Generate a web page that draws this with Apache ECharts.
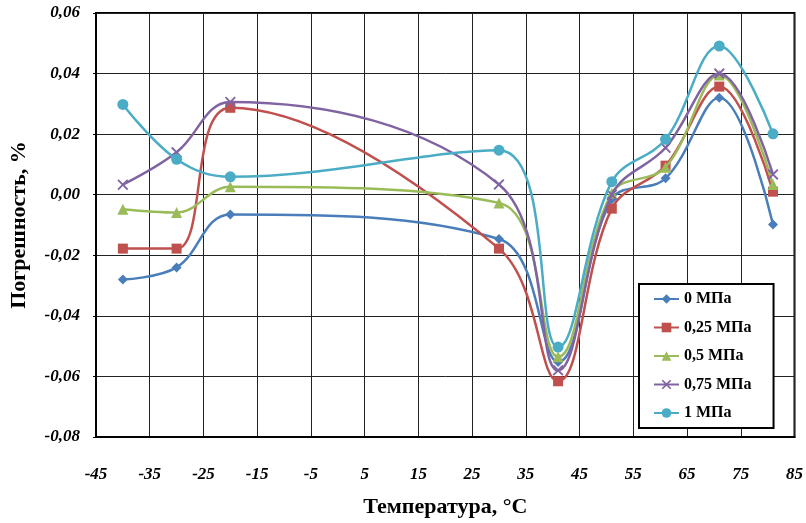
<!DOCTYPE html>
<html>
<head>
<meta charset="utf-8">
<script src="https://cdn.jsdelivr.net/npm/echarts@6/dist/echarts.min.js"></script>
<style>
  html, body { margin: 0; padding: 0; background: #fff; }
  #chart { width: 806px; height: 523px; }
</style>
</head>
<body>
<div id="chart"></div>
<script>
// Measurement temperatures, °C
const temperatures = [-40, -30, -20, 30, 41, 51, 61, 71, 81];

// Error, %, for each pressure
const err0MPa   = [-0.028, -0.024, -0.0065, -0.0146, -0.0552, -0.0015, 0.0054, 0.032, -0.0098];
const err025MPa = [-0.0178, -0.0178, 0.0287, -0.0178, -0.0616, -0.0046, 0.0096, 0.0357, 0.001];
const err05MPa  = [-0.0048, -0.0059, 0.0026, -0.0027, -0.0535, 0.0005, 0.0091, 0.0395, 0.0034];
const err075MPa = [0.0033, 0.014, 0.0306, 0.0034, -0.058, 0.0, 0.0155, 0.04, 0.0067];
const err1MPa   = [0.0298, 0.0117, 0.0059, 0.0147, -0.0503, 0.0043, 0.0183, 0.0491, 0.0201];

const seriesNames = ['0 МПа', '0,25 МПа', '0,5 МПа', '0,75 МПа', '1 МПа'];
const seriesData = [err0MPa, err025MPa, err05MPa, err075MPa, err1MPa];
const colors = ['#4A7EBB', '#C0504D', '#9BBB59', '#8064A2', '#4BACC6'];

const crossPath = 'path://M0,1.2 L1.2,0 L5,3.8 L8.8,0 L10,1.2 L6.2,5 L10,8.8 L8.8,10 L5,6.2 L1.2,10 L0,8.8 L3.8,5 Z';
const symbols = ['diamond', 'rect', 'triangle', crossPath, 'circle'];
const symbolSizes = [10, 10, 11, 11, 11];

const serif = '"Liberation Serif", "Times New Roman", serif';
const tickFont = {
  fontFamily: serif,
  fontWeight: 'bold',
  fontStyle: 'italic',
  fontSize: 17,
  color: '#000'
};

const chart = echarts.init(document.getElementById('chart'), null, { renderer: 'canvas' });

chart.setOption({
  animation: false,
  backgroundColor: '#fff',
  grid: {
    left: 96, top: 13, right: 11, bottom: 76,
    show: true, borderColor: '#000', borderWidth: 2
  },
  xAxis: {
    type: 'value',
    min: -45, max: 85, interval: 10,
    name: 'Температура, °C',
    nameLocation: 'middle',
    nameGap: 59,
    nameTextStyle: { fontFamily: serif, fontWeight: 'bold', fontSize: 22, color: '#000' },
    axisLine: { show: true, onZero: false, lineStyle: { color: '#000', width: 2 } },
    axisTick: { show: false },
    axisLabel: Object.assign({ margin: 29 }, tickFont),
    splitLine: { show: true, lineStyle: { color: '#222', width: 1 } }
  },
  yAxis: {
    type: 'value',
    min: -0.08, max: 0.06, interval: 0.02,
    name: 'Погрешность, %',
    nameLocation: 'middle',
    nameGap: 66,
    nameTextStyle: { fontFamily: serif, fontWeight: 'bold', fontSize: 22, color: '#000' },
    axisLine: { show: true, onZero: false, lineStyle: { color: '#000', width: 2 } },
    axisTick: { show: true, length: 3, lineStyle: { color: '#000' } },
    axisLabel: Object.assign({
      margin: 16,
      formatter: v => v.toFixed(2).replace('.', ',')
    }, tickFont),
    splitLine: { show: true, lineStyle: { color: '#222', width: 1 } }
  },
  legend: {
    orient: 'vertical',
    left: 639, top: 284,
    backgroundColor: '#fff',
    borderColor: '#000', borderWidth: 2,
    padding: [7, 22, 7, 14],
    itemWidth: 25, itemHeight: 12, itemGap: 12.5,
    textStyle: { fontFamily: serif, fontWeight: 'bold', fontSize: 16, color: '#000' },
    data: seriesNames
  },
  series: seriesNames.map((name, i) => ({
    name: name,
    type: 'line',
    smooth: 0.38,
    data: temperatures.map((t, k) => [t, seriesData[i][k]]),
    symbol: symbols[i],
    symbolSize: symbolSizes[i],
    itemStyle: { color: colors[i] },
    lineStyle: { color: colors[i], width: 2.5 },
    z: 2 + i
  }))
});
</script>
</body>
</html>
